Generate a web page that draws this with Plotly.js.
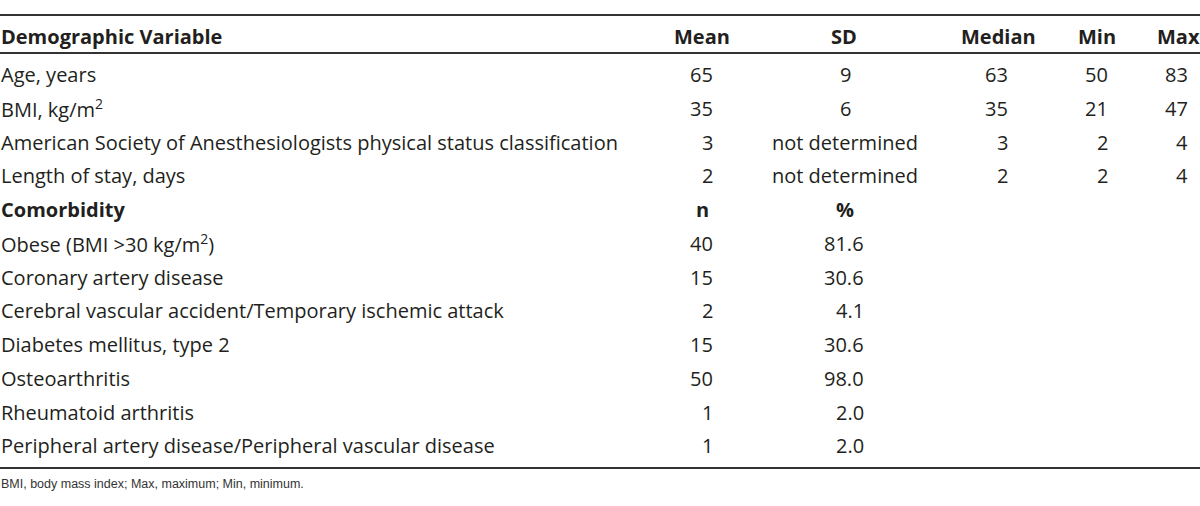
<!DOCTYPE html>
<html>
<head>
<meta charset="utf-8">
<script src="https://cdn.plot.ly/plotly-3.0.1.min.js"></script>
<style>html,body{margin:0;padding:0;background:#fff;}#chart{width:1200px;height:506px;}</style>
</head>
<body>
<div id="chart"></div>
<script>
// ---- data ----
const headerLabels = ['Demographic Variable', 'Mean', 'SD', 'Median', 'Min', 'Max'];
const demoVariables = ['Age, years', 'BMI, kg/m<sup>2</sup>', 'American Society of Anesthesiologists physical status classification', 'Length of stay, days'];
const demoMean = ['65', '35', '3', '2'];
const demoSD = ['9', '6', 'not determined', 'not determined'];
const demoMedian = ['63', '35', '3', '2'];
const demoMin = ['50', '21', '2', '2'];
const demoMax = ['83', '47', '4', '4'];
const comorbidityHeader = ['Comorbidity', 'n', '%'];
const comorbidities = ['Obese (BMI &gt;30 kg/m<sup>2</sup>)', 'Coronary artery disease', 'Cerebral vascular accident/Temporary ischemic attack', 'Diabetes mellitus, type 2', 'Osteoarthritis', 'Rheumatoid arthritis', 'Peripheral artery disease/Peripheral vascular disease'];
const comorbidityN = ['40', '15', '2', '15', '50', '1', '1'];
const comorbidityPct = ['81.6', '30.6', '4.1', '30.6', '98.0', '2.0', '2.0'];
const footnote = 'BMI, body mass index; Max, maximum; Min, minimum.';

// ---- layout constants ----
const W = 1200, H = 506;
const FONT = 'Open Sans, Noto Sans, sans-serif';
const TXT = '#231f20';
const SIZE = 20;
const headerY = 36;
const firstRowY = 74.5;
const pitch = 33.75;
const rules = [15, 53, 468];
const footY = 484;
// columns: header center x / value anchor x / value anchoring
const cols = {
  label: {hx: 0, hanchor: 'left', vx: 0, vanchor: 'left'},
  mean: {hx: 702, hanchor: 'center', vx: 714, vanchor: 'right'},
  sd: {hx: 844, hanchor: 'center', vx: 845, vanchor: 'center'},
  pct: {hx: 845, hanchor: 'center', vx: 865, vanchor: 'right'},
  median: {hx: 998, hanchor: 'center', vx: 1009, vanchor: 'right'},
  min: {hx: 1097, hanchor: 'center', vx: 1109, vanchor: 'right'},
  max: {hx: 1178, hanchor: 'center', vx: 1189, vanchor: 'right'}
};

const ann = [];
function add(text, x, y, xanchor, opts) {
  ann.push(Object.assign({
    text: text, x: x, y: y, xref: 'x', yref: 'y', xanchor: xanchor, yanchor: 'middle',
    showarrow: false, borderpad: 0,
    font: {family: FONT, size: SIZE, color: TXT}
  }, opts || {}));
}
const rowY = i => firstRowY + pitch * i;

// header
const headerCols = ['label', 'mean', 'sd', 'median', 'min', 'max'];
headerLabels.forEach((h, j) => {
  const c = cols[headerCols[j]];
  add('<b>' + h + '</b>', c.hx, headerY, c.hanchor);
});
// demographic rows
const demoCols = [['label', demoVariables], ['mean', demoMean], ['sd', demoSD], ['median', demoMedian], ['min', demoMin], ['max', demoMax]];
demoVariables.forEach((_, i) => {
  demoCols.forEach(([k, arr]) => {
    const c = cols[k];
    add(arr[i], c.vx, rowY(i), c.vanchor);
  });
});
// comorbidity sub-header
const subRow = demoVariables.length;
add('<b>' + comorbidityHeader[0] + '</b>', cols.label.vx, rowY(subRow), 'left');
add('<b>' + comorbidityHeader[1] + '</b>', cols.mean.hx, rowY(subRow), 'center');
add('<b>' + comorbidityHeader[2] + '</b>', cols.pct.hx, rowY(subRow), 'center');
// comorbidity rows
comorbidities.forEach((name, i) => {
  const r = subRow + 1 + i;
  add(name, cols.label.vx, rowY(r), 'left');
  add(comorbidityN[i], cols.mean.vx, rowY(r), 'right');
  add(comorbidityPct[i], cols.pct.vx, rowY(r), 'right');
});
// footnote
add(footnote, 0, footY, 'left', {font: {family: 'Liberation Sans, Arial, sans-serif', size: 12.5, color: '#333'}});

const shapes = rules.map(y => ({
  type: 'line', xref: 'x', yref: 'y', x0: 0, x1: W, y0: y, y1: y,
  line: {color: '#333', width: 2}
}));

const layout = {
  width: W, height: H,
  margin: {l: 0, r: 0, t: 0, b: 0, pad: 0},
  paper_bgcolor: '#fff', plot_bgcolor: '#fff',
  xaxis: {range: [0, W], visible: false, fixedrange: true},
  yaxis: {range: [H, 0], visible: false, fixedrange: true},
  showlegend: false,
  annotations: ann,
  shapes: shapes
};
Plotly.newPlot('chart', [], layout, {staticPlot: true, displayModeBar: false});
</script>
</body>
</html>
